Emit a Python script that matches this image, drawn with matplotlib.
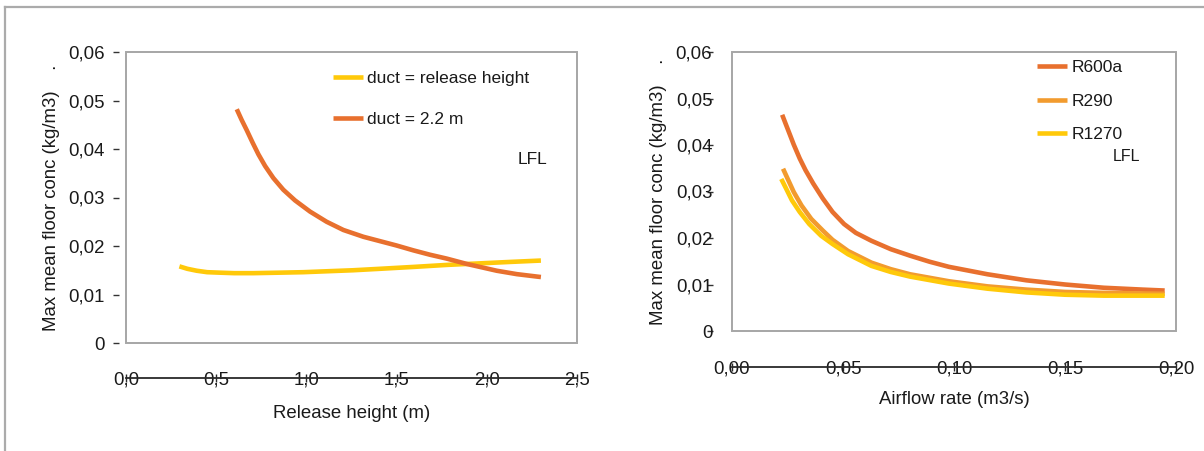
import matplotlib
matplotlib.use("Agg")
import matplotlib.pyplot as plt
from matplotlib.lines import Line2D
from matplotlib.patches import Rectangle

plt.rcParams['font.family'] = ['Liberation Sans', 'DejaVu Sans']

# Left panel: max mean floor concentration vs release height
height_yellow = [0.296, 0.34, 0.392, 0.45, 0.521, 0.60, 0.706, 0.85, 0.983, 1.12,
                 1.26, 1.408, 1.60, 1.778, 1.95, 2.12, 2.30]
conc_yellow = [0.0158, 0.0153, 0.0149, 0.0146, 0.0145, 0.0144, 0.0144, 0.0145, 0.0146,
               0.0148, 0.0150, 0.0153, 0.0157, 0.0161, 0.0164, 0.0167, 0.0170]
height_orange = [0.614, 0.641, 0.669, 0.702, 0.734, 0.771, 0.817, 0.872, 0.937, 1.020,
                 1.112, 1.205, 1.316, 1.408, 1.500, 1.593, 1.685, 1.778, 1.889, 2.055,
                 2.166, 2.277, 2.30]
conc_orange = [0.0482, 0.0460, 0.0439, 0.0413, 0.0389, 0.0365, 0.0340, 0.0316, 0.0294,
               0.0271, 0.0250, 0.0233, 0.0219, 0.0210, 0.0201, 0.0191, 0.0182, 0.0174,
               0.0163, 0.0149, 0.0142, 0.0137, 0.0136]
left_labels = ['duct = release height', 'duct = 2.2 m']

# Right panel: max mean floor concentration vs airflow rate
airflow_r600a = [0.0226, 0.0243, 0.0261, 0.0278, 0.0305, 0.0331, 0.0366, 0.0409,
                 0.0453, 0.0505, 0.0558, 0.0628, 0.0715, 0.0802, 0.0890, 0.0977,
                 0.1151, 0.1326, 0.1500, 0.1675, 0.1850, 0.1949]
conc_r600a = [0.0465, 0.0444, 0.0422, 0.0401, 0.0371, 0.0346, 0.0317, 0.0285,
              0.0256, 0.0230, 0.0211, 0.0194, 0.0176, 0.0162, 0.0149, 0.0138,
              0.0122, 0.0109, 0.0100, 0.0093, 0.0089, 0.0087]
airflow_r290 = [0.0230, 0.0253, 0.0278, 0.0313, 0.0357, 0.0409, 0.0453, 0.0523,
                0.0628, 0.0715, 0.0802, 0.0977, 0.1151, 0.1326, 0.1500, 0.1675, 0.1949]
conc_r290 = [0.0349, 0.0325, 0.0299, 0.0270, 0.0241, 0.0216, 0.0196, 0.0172,
             0.0147, 0.0133, 0.0122, 0.0107, 0.0096, 0.0089, 0.0084, 0.0082, 0.0080]
airflow_r1270 = [0.0222, 0.0243, 0.0270, 0.0305, 0.0348, 0.0401, 0.0453, 0.0523,
                 0.0628, 0.0715, 0.0802, 0.0977, 0.1151, 0.1326, 0.1500, 0.1675, 0.1949]
conc_r1270 = [0.0327, 0.0307, 0.0281, 0.0256, 0.0230, 0.0205, 0.0187, 0.0165,
              0.0140, 0.0127, 0.0117, 0.0102, 0.0091, 0.0083, 0.0078, 0.0076, 0.0076]
right_labels = ['R600a', 'R290', 'R1270']

y_ticks = [0, 0.01, 0.02, 0.03, 0.04, 0.05, 0.06]
y_ticklabels = ['0', '0,01', '0,02', '0,03', '0,04', '0,05', '0,06']
x_ticks_left = [0.0, 0.5, 1.0, 1.5, 2.0, 2.5]
x_ticklabels_left = ['0,0', '0,5', '1,0', '1,5', '2,0', '2,5']
x_ticks_right = [0.0, 0.05, 0.10, 0.15, 0.20]
x_ticklabels_right = ['0,00', '0,05', '0,10', '0,15', '0,20']

ORANGE = '#E8702E'
LIGHT_ORANGE = '#F29B2E'
YELLOW = '#FFC90A'
BOX = '#a6a6a6'
TEXT = '#1a1a1a'
FS = 13.4

W, H = 1204, 451
fig = plt.figure(figsize=(W / 100, H / 100), dpi=100)

ax1 = fig.add_axes([126 / W, 1 - 343 / H, (577 - 126) / W, (343 - 52) / H])
ax2 = fig.add_axes([732 / W, 1 - 331 / H, (1176 - 732) / W, (331 - 52) / H])


def style_axes(ax, xticks, xlabels, ytick_offset, ytick_pad, xline_offset):
    for s in ('top', 'right'):
        ax.spines[s].set_visible(False)
    ax.spines['left'].set_position(('outward', ytick_offset))
    ax.spines['left'].set_visible(False)
    ax.spines['bottom'].set_position(('outward', xline_offset))
    ax.spines['bottom'].set_color('#2a2a2a')
    ax.spines['bottom'].set_linewidth(1.3)
    # grey frame around the plotting area
    ax.add_patch(Rectangle((0, 0), 1, 1, transform=ax.transAxes, fill=False,
                           edgecolor=BOX, linewidth=1.4, clip_on=False, zorder=5))
    ax.set_yticks(y_ticks)
    ax.set_yticklabels(y_ticklabels)
    ax.set_ylim(0, 0.06)
    ax.set_xticks(xticks)
    ax.set_xticklabels(xlabels)
    ax.set_xlim(xticks[0], xticks[-1])
    ax.tick_params(axis='y', direction='out', length=4.5, width=1.0,
                   color='#333333', labelsize=FS, labelcolor=TEXT, pad=ytick_pad)
    ax.tick_params(axis='x', direction='inout', length=6, width=1.0,
                   color='#2a2a2a', labelsize=FS, labelcolor=TEXT, pad=-1.5)
    for lab in ax.get_xticklabels():
        lab.set_verticalalignment('center')


style_axes(ax1, x_ticks_left, x_ticklabels_left, 5.0, 5.8, 25.2)
style_axes(ax2, x_ticks_right, x_ticklabels_right, 13.7, -4, 25.9)

lw = 3.3
ax1.plot(height_yellow, conc_yellow, color=YELLOW, lw=lw, solid_capstyle='butt',
         label=left_labels[0])
ax1.plot(height_orange, conc_orange, color=ORANGE, lw=lw, solid_capstyle='butt',
         label=left_labels[1])
ax1.legend(loc='upper left', bbox_to_anchor=(0.459, 0.935), frameon=False,
           fontsize=12.5, handlelength=1.7, handletextpad=0.25, labelspacing=1.5,
           borderpad=0, borderaxespad=0, labelcolor=TEXT)
ax1.text(0.869, 0.629, 'LFL', transform=ax1.transAxes, fontsize=12.5,
         color=TEXT, va='center', ha='left')
ax1.set_xlabel('Release height (m)', fontsize=FS, color=TEXT, labelpad=11.5)
ax1.set_ylabel('Max mean floor conc (kg/m3)    .', fontsize=FS, color=TEXT, labelpad=5.5)

ax2.plot(airflow_r600a, conc_r600a, color=ORANGE, lw=lw, solid_capstyle='butt',
         label=right_labels[0])
ax2.plot(airflow_r290, conc_r290, color=LIGHT_ORANGE, lw=lw, solid_capstyle='butt',
         label=right_labels[1])
ax2.plot(airflow_r1270, conc_r1270, color=YELLOW, lw=lw, solid_capstyle='butt',
         label=right_labels[2])
ax2.legend(loc='upper left', bbox_to_anchor=(0.687, 0.972), frameon=False,
           fontsize=12.5, handlelength=1.75, handletextpad=0.25, labelspacing=1.07,
           borderpad=0, borderaxespad=0, labelcolor=TEXT)
ax2.text(0.858, 0.627, 'LFL', transform=ax2.transAxes, fontsize=11.5,
         color=TEXT, va='center', ha='left')
ax2.set_xlabel('Airflow rate (m3/s)', fontsize=FS, color=TEXT, labelpad=9.8)
ax2.set_ylabel('Max mean floor conc (kg/m3)    .', fontsize=FS, color=TEXT, labelpad=6.3)

# outer page frame: top and left edges
fig.add_artist(Line2D([5 / W, 1], [1 - 7 / H, 1 - 7 / H], color='#ababab', lw=1.6))
fig.add_artist(Line2D([5 / W, 5 / W], [0, 1 - 7 / H], color='#ababab', lw=1.6))

fig.savefig('out.png', dpi=100)
